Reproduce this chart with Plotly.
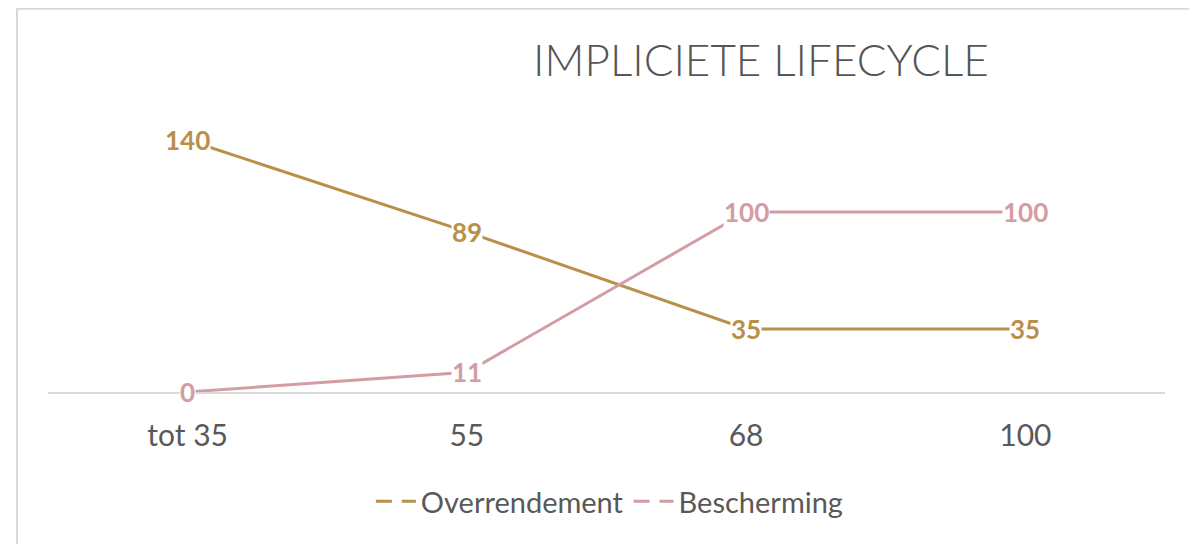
import plotly.graph_objects as go

categories = ["tot 35", "55", "68", "100"]
overrendement = [140, 89, 35, 35]
bescherming = [0, 11, 100, 100]
series_names = ["Overrendement", "Bescherming"]
title_text = "IMPLICIETE LIFECYCLE"

GOLD = "#B8904A"
PINK = "#D49CA3"
FONT = "Lato, 'Open Sans', sans-serif"

fig = go.Figure()
for name, vals, col in [(series_names[0], overrendement, GOLD), (series_names[1], bescherming, PINK)]:
    fig.add_trace(go.Scatter(x=categories, y=vals, mode="lines", name=name,
                             line=dict(color=col, width=3), cliponaxis=False, showlegend=False))
for name, col in [(series_names[0], GOLD), (series_names[1], PINK)]:
    fig.add_trace(go.Scatter(x=[categories[0]], y=[None], mode="lines", name=name,
                             line=dict(color=col, width=3, dash="16px,10px"), showlegend=True))

annotations = []
for vals, col in [(overrendement, GOLD), (bescherming, PINK)]:
    for i, v in enumerate(vals):
        # category axis: position by category index
        annotations.append(dict(x=i, y=v, xref="x", yref="y", text=f"<b>{v}</b>",
                                showarrow=False, bgcolor="white", borderpad=0,
                                font=dict(family=FONT, size=26, color=col)))

fig.update_layout(
    width=1197, height=544,
    margin=dict(l=40, r=40, t=96, b=160),
    paper_bgcolor="white", plot_bgcolor="white",
    title=dict(text=title_text, x=0.629, xanchor="center", y=0.904, yanchor="middle",
               font=dict(family=FONT, size=44, color="#555555", weight=300)),
    xaxis=dict(type="category", categoryorder="array", categoryarray=categories,
               range=[-0.5, len(categories) - 0.5], autorange=False,
               showgrid=False, showline=True, linecolor="#D9D9D9", linewidth=2,
               ticks="", tickfont=dict(family=FONT, size=30, color="#595959"),
               ticklabelstandoff=16, zeroline=False),
    yaxis=dict(range=[0, 160], visible=False, showgrid=False, zeroline=False),
    legend=dict(orientation="h", x=0.503, xanchor="center", y=-0.38, yanchor="middle",
                font=dict(family=FONT, size=29, color="#595959"), itemwidth=40),
    annotations=annotations,
    shapes=[dict(type="rect", xref="paper", yref="paper", x0=-0.0278, x1=1.024,
                 y0=-0.7, y1=1.331, line=dict(color="#D9D9D9", width=2))],
)

fig.write_html("out.html")
